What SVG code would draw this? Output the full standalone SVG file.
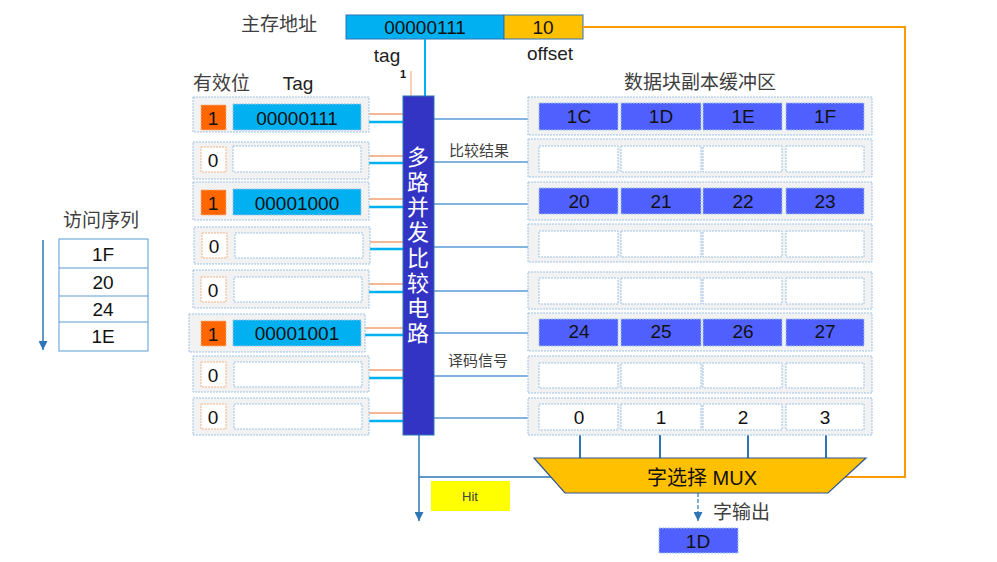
<svg xmlns="http://www.w3.org/2000/svg" width="997" height="562" viewBox="0 0 997 562">
<style>
text{font-family:"Liberation Sans","Noto Sans CJK SC",sans-serif;fill:#111;}
.cn{font-size:19px;fill:#404040;}
.val{font-size:19px;text-anchor:middle;dominant-baseline:central;}
.cont{fill:#F2F2F2;stroke:#9DC3E6;stroke-width:1;stroke-dasharray:2 1;}
.vfill{fill:#FF6600;stroke:#F4B183;stroke-width:1;stroke-dasharray:2 1;}
.vemp{fill:#fff;stroke:#F4B183;stroke-width:1;stroke-dasharray:2 1;}
.tfill{fill:#00B0F0;stroke:#9DC3E6;stroke-width:1;stroke-dasharray:2 1;}
.temp{fill:#fff;stroke:#9DC3E6;stroke-width:1;stroke-dasharray:2 1;}
.dfill{fill:#5060FF;stroke:#9DC3E6;stroke-width:1;stroke-dasharray:2 1;}
.demp{fill:#fff;stroke:#9DC3E6;stroke-width:1;stroke-dasharray:2 1;}
.lo{stroke:#F4A070;stroke-width:1.5;fill:none;}
.lb{stroke:#00B0F0;stroke-width:2.5;fill:none;}
.lr{stroke:#5B9BD5;stroke-width:1.3;fill:none;}
.ld{stroke:#2E75B6;stroke-width:2;fill:none;}
.or{stroke:#FF9900;stroke-width:2;fill:none;}
.cmp{fill:#FFFFFF;font-size:22px;text-anchor:middle;dominant-baseline:central;}
</style>
<defs>
<marker id="ah" viewBox="0 0 10 10" refX="10" refY="5" markerWidth="9" markerHeight="9" orient="auto" markerUnits="userSpaceOnUse">
<path d="M0,0 L10,5 L0,10 Z" fill="#2E75B6"/>
</marker>
</defs>
<rect width="997" height="562" fill="#fff"/>

<g id="addr">
<text x="241" y="31" class="cn">主存地址</text>
<rect x="346" y="15" width="158" height="24" fill="#00B0F0" stroke="#2E75B6" stroke-width="1"/>
<rect x="504" y="15" width="79" height="24" fill="#FFC000" stroke="#2E75B6" stroke-width="1"/>
<text x="425" y="27" class="val">00000111</text>
<text x="543" y="27" class="val">10</text>
<text x="387" y="62" style="font-size:19px;text-anchor:middle;fill:#222;">tag</text>
<text x="550" y="60" style="font-size:19px;text-anchor:middle;fill:#222;">offset</text>
<text x="403" y="78" style="font-size:11px;font-weight:bold;text-anchor:middle;">1</text>
</g>

<g id="headers">
<text x="193" y="90" class="cn">有效位</text>
<text x="298" y="90" style="font-size:19px;text-anchor:middle;fill:#222;">Tag</text>
<text x="700" y="89" class="cn" text-anchor="middle">数据块副本缓冲区</text>
<text x="449" y="156" style="font-size:15px;fill:#404040;">比较结果</text>
<text x="448" y="366" style="font-size:15px;fill:#404040;">译码信号</text>
</g>

<g id="connectors">
<line x1="425" y1="39" x2="425" y2="96" class="lb" style="stroke-width:2"/>
<line x1="411" y1="71" x2="411" y2="96" class="lo" style="stroke-width:1"/>
<path class="lo" d="M361,114H403M361,156H403M361,199H403M361,242H403M361,284H403M361,328H403M361,370H403M361,413H403"/>
<path class="lb" d="M361,122H403M361,163H403M361,207H403M361,249H403M361,292H403M361,335H403M361,378H403M361,421H403"/>
<path class="lr" d="M434,119H540M434,162H540M434,204H540M434,247H540M434,291H540M434,333H540M434,376H540M434,418H540"/>
<path class="ld" d="M580,430V458M660,430V458M748,430V458M826,430V458"/>
<line x1="419" y1="435" x2="419" y2="521" stroke="#2E75B6" stroke-width="1.5" marker-end="url(#ah)"/>
<line x1="419" y1="477" x2="560" y2="477" stroke="#2E75B6" stroke-width="1.5"/>
<path class="or" d="M583,27H905V477H843"/>
<line x1="698" y1="493" x2="698" y2="521" stroke="#2E75B6" stroke-width="1.2" stroke-dasharray="4 2" marker-end="url(#ah)"/>
</g>

<g id="comparator">
<rect x="403" y="96" width="31" height="339" fill="#3333C4" stroke="#2E75B6" stroke-width="1"/>
<text x="418" y="157" class="cmp">多</text>
<text x="418" y="182" class="cmp">路</text>
<text x="418" y="207" class="cmp">并</text>
<text x="418" y="232" class="cmp">发</text>
<text x="418" y="258" class="cmp">比</text>
<text x="418" y="283" class="cmp">较</text>
<text x="418" y="308" class="cmp">电</text>
<text x="418" y="333" class="cmp">路</text>
</g>

<g id="tag-row-1"><rect class="cont" x="193" y="97" width="176" height="35"/><rect class="vfill" x="201" y="105" width="25" height="25"/><text class="val" x="213" y="118">1</text><rect class="tfill" x="233" y="104" width="128" height="26"/><text class="val" x="297" y="118">00000111</text></g>
<g id="tag-row-2"><rect class="cont" x="193" y="142" width="176" height="37"/><rect class="vemp" x="201" y="147" width="25" height="25"/><text class="val" x="213" y="160">0</text><rect class="temp" x="233" y="146" width="128" height="26"/></g>
<g id="tag-row-3"><rect class="cont" x="193" y="182" width="176" height="38"/><rect class="vfill" x="201" y="190" width="25" height="25"/><text class="val" x="213" y="203">1</text><rect class="tfill" x="233" y="189" width="128" height="26"/><text class="val" x="297" y="203">00001000</text></g>
<g id="tag-row-4"><rect class="cont" x="194" y="227" width="176" height="37"/><rect class="vemp" x="202" y="233" width="25" height="25"/><text class="val" x="214" y="246">0</text><rect class="temp" x="235" y="233" width="128" height="25"/></g>
<g id="tag-row-5"><rect class="cont" x="193" y="270" width="176" height="38"/><rect class="vemp" x="201" y="277" width="25" height="25"/><text class="val" x="213" y="290">0</text><rect class="temp" x="234" y="277" width="128" height="25"/></g>
<g id="tag-row-6"><rect class="cont" x="189" y="314" width="176" height="38"/><rect class="vfill" x="201" y="321" width="25" height="25"/><text class="val" x="213" y="334">1</text><rect class="tfill" x="233" y="320" width="128" height="26"/><text class="val" x="297" y="333">00001001</text></g>
<g id="tag-row-7"><rect class="cont" x="193" y="356" width="176" height="36"/><rect class="vemp" x="201" y="362" width="25" height="25"/><text class="val" x="213" y="375">0</text><rect class="temp" x="234" y="362" width="128" height="25"/></g>
<g id="tag-row-8"><rect class="cont" x="193" y="398" width="176" height="37"/><rect class="vemp" x="201" y="404" width="25" height="25"/><text class="val" x="213" y="417">0</text><rect class="temp" x="234" y="404" width="128" height="25"/></g>

<g id="data-row-1"><rect class="cont" x="528" y="97" width="344" height="38"/>
<rect class="dfill" x="539" y="103" width="79" height="27"/><rect class="dfill" x="621" y="103" width="80" height="27"/><rect class="dfill" x="703" y="103" width="79" height="27"/><rect class="dfill" x="786" y="103" width="78" height="27"/>
<text class="val" x="579" y="116">1C</text><text class="val" x="661" y="116">1D</text><text class="val" x="743" y="116">1E</text><text class="val" x="825" y="116">1F</text></g>
<g id="data-row-2"><rect class="cont" x="528" y="139" width="344" height="38"/>
<rect class="demp" x="539" y="146" width="79" height="26"/><rect class="demp" x="621" y="146" width="80" height="26"/><rect class="demp" x="703" y="146" width="79" height="26"/><rect class="demp" x="786" y="146" width="78" height="26"/></g>
<g id="data-row-3"><rect class="cont" x="528" y="182" width="344" height="38"/>
<rect class="dfill" x="539" y="188" width="79" height="26"/><rect class="dfill" x="621" y="188" width="80" height="26"/><rect class="dfill" x="703" y="188" width="79" height="26"/><rect class="dfill" x="786" y="188" width="78" height="26"/>
<text class="val" x="579" y="201">20</text><text class="val" x="661" y="201">21</text><text class="val" x="743" y="201">22</text><text class="val" x="825" y="201">23</text></g>
<g id="data-row-4"><rect class="cont" x="528" y="224" width="344" height="38"/>
<rect class="demp" x="539" y="231" width="79" height="26"/><rect class="demp" x="621" y="231" width="80" height="26"/><rect class="demp" x="703" y="231" width="79" height="26"/><rect class="demp" x="786" y="231" width="78" height="26"/></g>
<g id="data-row-5"><rect class="cont" x="528" y="272" width="344" height="37"/>
<rect class="demp" x="539" y="278" width="79" height="26"/><rect class="demp" x="621" y="278" width="80" height="26"/><rect class="demp" x="703" y="278" width="79" height="26"/><rect class="demp" x="786" y="278" width="78" height="26"/></g>
<g id="data-row-6"><rect class="cont" x="528" y="313" width="344" height="38"/>
<rect class="dfill" x="539" y="319" width="79" height="27"/><rect class="dfill" x="621" y="319" width="80" height="27"/><rect class="dfill" x="703" y="319" width="79" height="27"/><rect class="dfill" x="786" y="319" width="78" height="27"/>
<text class="val" x="579" y="331">24</text><text class="val" x="661" y="331">25</text><text class="val" x="743" y="331">26</text><text class="val" x="825" y="331">27</text></g>
<g id="data-row-7"><rect class="cont" x="528" y="356" width="344" height="37"/>
<rect class="demp" x="539" y="363" width="79" height="25"/><rect class="demp" x="621" y="363" width="80" height="25"/><rect class="demp" x="703" y="363" width="79" height="25"/><rect class="demp" x="786" y="363" width="78" height="25"/></g>
<g id="data-row-8"><rect class="cont" x="528" y="398" width="344" height="37"/>
<rect class="demp" x="539" y="404" width="79" height="26"/><rect class="demp" x="621" y="404" width="80" height="26"/><rect class="demp" x="703" y="404" width="79" height="26"/><rect class="demp" x="786" y="404" width="78" height="26"/>
<text class="val" x="579" y="417">0</text><text class="val" x="661" y="417">1</text><text class="val" x="743" y="417">2</text><text class="val" x="825" y="417">3</text></g>

<g id="mux">
<polygon points="534,458 866,458 828,493 565,493" fill="#FFC000" stroke="#2F5597" stroke-width="1.2"/>
<text x="702" y="478" class="val" style="font-size:20px;">字选择 MUX</text>
</g>

<g id="hit">
<rect x="431" y="481" width="79" height="30" fill="#FFFF00"/>
<text x="470" y="496" class="val" style="font-size:13px;fill:#404040;">Hit</text>
</g>

<g id="word-out">
<text x="713" y="519" class="cn">字输出</text>
<rect x="659" y="528" width="79" height="25" fill="#5060FF" stroke="#9DC3E6" stroke-dasharray="2 1"/>
<text x="698" y="541" class="val">1D</text>
</g>

<g id="access-seq">
<text x="63" y="227" class="cn">访问序列</text>
<rect x="59" y="239" width="89" height="112" fill="#fff" stroke="#5B9BD5" stroke-width="1"/>
<path d="M59,268H148M59,296H148M59,322H148" stroke="#5B9BD5" stroke-width="1"/>
<text x="103" y="254" class="val">1F</text>
<text x="103" y="282" class="val">20</text>
<text x="103" y="309" class="val">24</text>
<text x="103" y="336" class="val">1E</text>
<line x1="43" y1="240" x2="43" y2="350" stroke="#2E75B6" stroke-width="1.5" marker-end="url(#ah)"/>
</g>
</svg>
